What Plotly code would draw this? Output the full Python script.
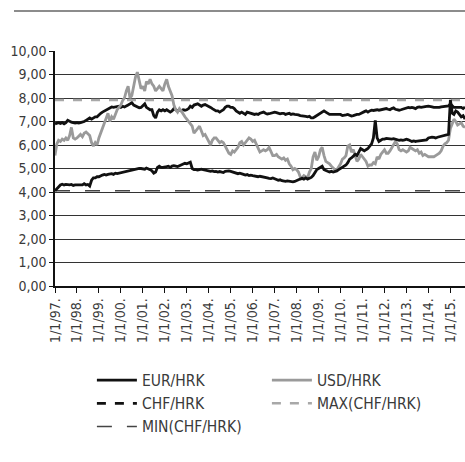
import pandas as pd
import plotly.graph_objects as go

# ---- data (monthly readings, Jan 1997 - Sep 2015) ----
usd_hrk = [
    5.55, 6.05, 6.2, 6.15, 6.25, 6.2, 6.3, 6.2, 6.4, 6.75, 6.3, 6.25,   # 1997
    6.3, 6.4, 6.45, 6.35, 6.5, 6.55, 6.45, 6.4, 6.1, 5.95, 6.1, 6.0,     # 1998
    6.3, 6.5, 6.7, 6.9, 7.1, 7.35, 7.0, 7.2, 7.1, 7.3, 7.5, 7.6,         # 1999
    7.7, 7.9, 8.0, 8.3, 8.5, 8.0, 8.1, 8.5, 8.9, 9.1, 8.8, 8.4,          # 2000
    8.5, 8.3, 8.7, 8.6, 8.8, 8.6, 8.5, 8.3, 8.4, 8.5, 8.4, 8.3,          # 2001
    8.6, 8.8, 8.5, 8.3, 8.1, 7.7, 7.5, 7.4, 7.55, 7.45, 7.3, 7.2,        # 2002
    7.1, 7.0, 6.9, 6.8, 6.5, 6.6, 6.7, 6.8, 6.6, 6.4, 6.45, 6.3,         # 2003
    6.1, 6.0, 6.2, 6.3, 6.3, 6.2, 6.1, 6.15, 6.1, 5.95, 5.8, 5.65,       # 2004
    5.6, 5.75, 5.7, 5.8, 5.9, 6.1, 6.15, 6.0, 6.1, 6.2, 6.3, 6.25,       # 2005
    6.15, 6.2, 6.05, 5.9, 5.7, 5.75, 5.8, 5.75, 5.8, 5.9, 5.7, 5.55,     # 2006
    5.55, 5.6, 5.5, 5.45, 5.4, 5.45, 5.35, 5.4, 5.2, 5.1, 4.95, 5.0,     # 2007
    4.95, 4.85, 4.65, 4.6, 4.7, 4.65, 4.6, 4.85, 5.0, 5.5, 5.7, 5.35,    # 2008
    5.5, 5.8, 5.9, 5.55, 5.3, 5.25, 5.2, 5.1, 5.0, 4.95, 4.95, 5.05,     # 2009
    5.2, 5.4, 5.45, 5.55, 5.95, 6.0, 5.7, 5.8, 5.5, 5.3, 5.4, 5.6,       # 2010
    5.5, 5.4, 5.3, 5.1, 5.15, 5.15, 5.25, 5.2, 5.5, 5.4, 5.6, 5.7,       # 2011
    5.8, 5.65, 5.65, 5.75, 5.9, 6.0, 6.15, 6.05, 5.8, 5.75, 5.8, 5.75,   # 2012
    5.7, 5.75, 5.9, 5.85, 5.8, 5.75, 5.8, 5.65, 5.7, 5.55, 5.6, 5.55,    # 2013
    5.5, 5.5, 5.5, 5.5, 5.55, 5.6, 5.65, 5.75, 5.95, 6.05, 6.1, 6.2,     # 2014
    6.7, 6.9, 7.1, 7.0, 6.85, 6.9, 6.95, 6.8, 6.75,                      # 2015
]
eur_hrk = [
    6.9, 6.92, 6.95, 6.92, 6.95, 6.9, 6.95, 7.05, 7.0, 6.97, 6.95, 6.93,
    6.95, 6.93, 6.95, 6.97, 7.0, 7.05, 7.1, 7.15, 7.1, 7.15, 7.2, 7.2,
    7.3, 7.35, 7.4, 7.45, 7.5, 7.55, 7.6, 7.62, 7.6, 7.62, 7.63, 7.65,
    7.6, 7.65, 7.62, 7.65, 7.7, 7.75, 7.8, 7.7, 7.65, 7.6, 7.58, 7.6,
    7.7, 7.75, 7.6, 7.55, 7.5, 7.5, 7.25, 7.15, 7.4, 7.5, 7.45, 7.5,
    7.45, 7.5, 7.45, 7.4, 7.45, 7.55, 7.5, 7.45, 7.5, 7.45, 7.5, 7.48,
    7.5, 7.55, 7.65, 7.6, 7.7, 7.72, 7.75, 7.7, 7.65, 7.7, 7.72, 7.68,
    7.65, 7.6, 7.55, 7.5, 7.45, 7.45, 7.4, 7.45, 7.5, 7.6, 7.65, 7.65,
    7.6, 7.6, 7.55, 7.45, 7.4, 7.35, 7.4, 7.35, 7.3, 7.4, 7.38, 7.35,
    7.35, 7.3, 7.32, 7.3, 7.35, 7.38, 7.4, 7.35, 7.32, 7.33, 7.35, 7.35,
    7.4, 7.38, 7.35, 7.33, 7.35, 7.35, 7.3, 7.32, 7.35, 7.3, 7.32, 7.3,
    7.3, 7.28, 7.25, 7.25, 7.25, 7.22, 7.2, 7.22, 7.15, 7.15, 7.2, 7.25,
    7.3, 7.35, 7.4, 7.45, 7.4, 7.35, 7.3, 7.3, 7.3, 7.28, 7.3, 7.3,
    7.3, 7.25, 7.25, 7.28, 7.3, 7.25, 7.23, 7.25, 7.28, 7.3, 7.3, 7.35,
    7.4, 7.42, 7.45, 7.4, 7.45, 7.48, 7.47, 7.5, 7.5, 7.48, 7.5, 7.52,
    7.55, 7.55, 7.52, 7.5, 7.55, 7.58, 7.52, 7.5, 7.48, 7.5, 7.52, 7.55,
    7.58, 7.6, 7.58, 7.6, 7.58, 7.55, 7.6, 7.62, 7.6, 7.62, 7.65, 7.64,
    7.65, 7.65, 7.62, 7.6, 7.6, 7.58, 7.6, 7.62, 7.63, 7.65, 7.67, 7.66,
    7.75, 7.65, 7.6, 7.6, 7.6, 7.58, 7.6, 7.55, 7.62,
]
chf_hrk = [
    4.05, 4.15, 4.25, 4.3, 4.33, 4.3, 4.32, 4.3, 4.3, 4.32, 4.28, 4.3,
    4.3, 4.3, 4.28, 4.3, 4.35, 4.3, 4.32, 4.25, 4.5, 4.6, 4.6, 4.65,
    4.65, 4.7, 4.72, 4.75, 4.72, 4.75, 4.76, 4.78, 4.75, 4.8, 4.78, 4.8,
    4.8, 4.82, 4.85, 4.88, 4.9, 4.92, 4.95, 4.95, 4.97, 4.98, 5.0, 5.0,
    5.0, 4.97, 5.02, 5.0, 4.95, 4.9, 4.8, 4.85, 5.05, 5.1, 5.05, 5.05,
    5.05, 5.08, 5.1, 5.05, 5.1, 5.12, 5.1, 5.08, 5.12, 5.15, 5.2, 5.22,
    5.2, 5.25, 5.27, 5.0, 4.95, 4.95, 4.93, 4.95, 4.97, 4.95, 4.93, 4.9,
    4.9, 4.88, 4.9, 4.87, 4.88, 4.85, 4.87, 4.85, 4.83, 4.88, 4.9, 4.9,
    4.88, 4.85, 4.83, 4.8, 4.78, 4.8, 4.76, 4.75, 4.72, 4.74, 4.7, 4.72,
    4.7, 4.68, 4.66, 4.65, 4.67, 4.66, 4.64, 4.62, 4.6, 4.58, 4.57, 4.6,
    4.55, 4.53, 4.5, 4.52, 4.48, 4.46, 4.45, 4.47, 4.45, 4.42, 4.43, 4.45,
    4.5, 4.52, 4.55, 4.58, 4.55, 4.6, 4.55, 4.58, 4.62, 4.7, 4.85, 4.95,
    5.0, 5.05, 5.1, 4.95, 4.9, 4.88, 4.85, 4.88, 4.85, 4.87, 4.9, 4.95,
    5.0, 5.05, 5.1, 5.15, 5.25, 5.4, 5.45, 5.55, 5.6, 5.55, 5.7, 5.85,
    5.8, 5.75, 5.8, 5.85, 5.95, 6.05, 6.3, 7.05, 6.3, 6.15, 6.2, 6.25,
    6.25, 6.28, 6.27, 6.25, 6.25, 6.27, 6.25, 6.2, 6.2, 6.22, 6.2, 6.22,
    6.25, 6.22, 6.18, 6.15, 6.17, 6.15, 6.17, 6.18, 6.2, 6.22, 6.2, 6.22,
    6.3, 6.32, 6.33, 6.32, 6.3, 6.33, 6.35, 6.37, 6.38, 6.4, 6.42, 6.45,
    7.92, 7.35, 7.3, 7.45, 7.4, 7.3, 7.2, 7.25, 7.1,
]
tick_dates = [f"{y}-01-01" for y in range(1997, 2016)]
tick_labels = [f"1/1/{str(y)[2:]}." for y in range(1997, 2016)]
y_ticks = list(range(0, 11))
y_labels = [f"{v},00" for v in y_ticks]

dates = pd.date_range("1997-01-01", periods=len(usd_hrk), freq="MS")
chf_max = max(chf_hrk)
chf_min = min(chf_hrk)

FONT = "DejaVu Sans Condensed, DejaVu Sans, sans-serif"
TXT = "#3a3a3a"
fig = go.Figure()
fig.add_trace(go.Scatter(x=dates, y=eur_hrk, name="EUR/HRK", mode="lines",
                         line=dict(color="#111111", width=2.8)))
fig.add_trace(go.Scatter(x=dates, y=usd_hrk, name="USD/HRK", mode="lines",
                         line=dict(color="#9a9a9a", width=2.8)))
# legend proxy for CHF (dashed in legend, dense solid line in plot)
fig.add_trace(go.Scatter(x=[None], y=[None], name="CHF/HRK", mode="lines",
                         line=dict(color="#111111", width=2.8, dash="dash")))
fig.add_trace(go.Scatter(x=[dates[0], dates[-1]], y=[chf_max, chf_max], name="MAX(CHF/HRK)",
                         mode="lines", line=dict(color="#a8a8a8", width=2.5, dash="dash")))
fig.add_trace(go.Scatter(x=[dates[0], dates[-1]], y=[chf_min, chf_min], name="MIN(CHF/HRK)",
                         mode="lines", line=dict(color="#444444", width=1.5, dash="longdash")))
fig.add_trace(go.Scatter(x=dates, y=chf_hrk, name="CHF/HRK", mode="lines", showlegend=False,
                         line=dict(color="#111111", width=2.8)))

fig.update_layout(
    width=465, height=462,
    margin=dict(l=55, r=0, t=51, b=176),
    paper_bgcolor="white", plot_bgcolor="white",
    font=dict(family=FONT, size=14, color=TXT),
    showlegend=True,
    legend=dict(orientation="h", x=0.09, xanchor="left", y=-0.33, yanchor="top",
                entrywidth=120, entrywidthmode="pixels", itemwidth=40,
                tracegroupgap=0, font=dict(family=FONT, size=15.5, color=TXT),
                bgcolor="rgba(0,0,0,0)"),
    shapes=[dict(type="line", xref="paper", yref="paper", x0=-0.1, x1=1.0,
                 y0=1.17, y1=1.17, line=dict(color="#666666", width=1.5))],
)
fig.update_xaxes(range=["1997-01-01", "2015-09-01"], tickvals=tick_dates, ticktext=tick_labels,
                 tickangle=-90, ticks="outside", ticklen=5, tickcolor="#111111",
                 showline=True, linecolor="#111111", linewidth=1.5, showgrid=False,
                 zeroline=False, tickfont=dict(family=FONT, size=14, color=TXT))
fig.update_yaxes(range=[0, 10], tickvals=y_ticks, ticktext=y_labels,
                 ticks="outside", ticklen=4, tickcolor="#111111",
                 showline=True, linecolor="#111111", linewidth=1.5,
                 showgrid=True, gridcolor="#333333", gridwidth=1.2, zeroline=False,
                 tickfont=dict(family=FONT, size=14, color=TXT))

fig.write_html("out.html", config={"displayModeBar": False},
               post_script="document.body.style.margin='0';")
